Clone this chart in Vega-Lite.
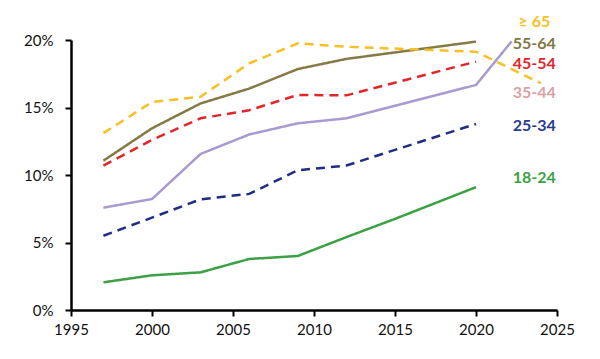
{
  "$schema": "https://vega.github.io/schema/vega-lite/v6.json",
  "width": 486,
  "height": 270,
  "autosize": {"type": "none"},
  "padding": {"left": 71, "top": 40, "right": 43, "bottom": 49},
  "background": "white",
  "config": {"view": {"stroke": null}, "font": "Lato"},
  "datasets": {
    "lines": [
      {"series": "18-24", "year": 1997, "value": 0.0205},
      {"series": "18-24", "year": 2000, "value": 0.0257},
      {"series": "18-24", "year": 2003, "value": 0.0279},
      {"series": "18-24", "year": 2006, "value": 0.0378},
      {"series": "18-24", "year": 2009, "value": 0.0400},
      {"series": "18-24", "year": 2012, "value": 0.0540},
      {"series": "18-24", "year": 2015, "value": 0.0675},
      {"series": "18-24", "year": 2020, "value": 0.0910},
      {"series": "25-34", "year": 1997, "value": 0.0550},
      {"series": "25-34", "year": 2000, "value": 0.0684},
      {"series": "25-34", "year": 2003, "value": 0.0820},
      {"series": "25-34", "year": 2006, "value": 0.0860},
      {"series": "25-34", "year": 2009, "value": 0.1035},
      {"series": "25-34", "year": 2012, "value": 0.1070},
      {"series": "25-34", "year": 2015, "value": 0.1186},
      {"series": "25-34", "year": 2020, "value": 0.1378},
      {"series": "35-44", "year": 1997, "value": 0.0758},
      {"series": "35-44", "year": 2000, "value": 0.0822},
      {"series": "35-44", "year": 2003, "value": 0.1156},
      {"series": "35-44", "year": 2006, "value": 0.1300},
      {"series": "35-44", "year": 2009, "value": 0.1383},
      {"series": "35-44", "year": 2012, "value": 0.1420},
      {"series": "35-44", "year": 2020, "value": 0.1667},
      {"series": "35-44", "year": 2022.2, "value": 0.1990},
      {"series": "45-54", "year": 1997, "value": 0.1069},
      {"series": "45-54", "year": 2000, "value": 0.1260},
      {"series": "45-54", "year": 2003, "value": 0.1420},
      {"series": "45-54", "year": 2006, "value": 0.1480},
      {"series": "45-54", "year": 2009, "value": 0.1593},
      {"series": "45-54", "year": 2012, "value": 0.1590},
      {"series": "45-54", "year": 2020, "value": 0.1840},
      {"series": "55-64", "year": 1997, "value": 0.1106},
      {"series": "55-64", "year": 2000, "value": 0.1346},
      {"series": "55-64", "year": 2003, "value": 0.1530},
      {"series": "55-64", "year": 2006, "value": 0.1640},
      {"series": "55-64", "year": 2009, "value": 0.1785},
      {"series": "55-64", "year": 2012, "value": 0.1860},
      {"series": "55-64", "year": 2020, "value": 0.1988},
      {"series": "≥ 65", "year": 1997, "value": 0.1310},
      {"series": "≥ 65", "year": 2000, "value": 0.1540},
      {"series": "≥ 65", "year": 2003, "value": 0.1580},
      {"series": "≥ 65", "year": 2006, "value": 0.1827},
      {"series": "≥ 65", "year": 2009, "value": 0.1975},
      {"series": "≥ 65", "year": 2012, "value": 0.1950},
      {"series": "≥ 65", "year": 2020, "value": 0.1913},
      {"series": "≥ 65", "year": 2024, "value": 0.1680}
    ],
    "labels": [
      {"series": "≥ 65", "year": 2023.6, "value": 0.2133},
      {"series": "55-64", "year": 2023.6, "value": 0.1970},
      {"series": "45-54", "year": 2023.6, "value": 0.1820},
      {"series": "35-44", "year": 2023.6, "value": 0.1607},
      {"series": "25-34", "year": 2023.6, "value": 0.1363},
      {"series": "18-24", "year": 2023.6, "value": 0.0978}
    ]
  },
  "layer": [
    {
      "data": {"name": "lines"},
      "mark": {"type": "line", "strokeWidth": 2.5, "clip": false},
      "encoding": {
        "x": {
          "field": "year", "type": "quantitative",
          "scale": {"domain": [1995, 2025], "nice": false, "zero": false},
          "axis": {
            "values": [1995, 2000, 2005, 2010, 2015, 2020, 2025],
            "format": "d", "title": null, "grid": false,
            "domainColor": "black", "domainWidth": 2.5,
            "tickColor": "black", "tickWidth": 2, "tickSize": 6,
            "labelFontSize": 15, "labelColor": "#111", "labelPadding": 6,
            "labelFont": "Lato", "labelFlush": false
          }
        },
        "y": {
          "field": "value", "type": "quantitative",
          "scale": {"domain": [0, 0.2], "nice": false},
          "axis": {
            "values": [0, 0.05, 0.1, 0.15, 0.2],
            "format": ".0%", "title": null, "grid": false,
            "domainColor": "black", "domainWidth": 2.5,
            "tickColor": "black", "tickWidth": 2, "tickSize": 6,
            "labelFontSize": 15, "labelColor": "#111", "labelPadding": 12,
            "labelFont": "Lato"
          }
        },
        "color": {
          "field": "series", "type": "nominal", "legend": null,
          "scale": {
            "domain": ["18-24", "25-34", "35-44", "45-54", "55-64", "≥ 65"],
            "range": ["#3DA044", "#1F2D85", "#A99BD0", "#E0262A", "#857A45", "#F6C026"]
          }
        },
        "strokeDash": {
          "field": "series", "type": "nominal", "legend": null,
          "scale": {
            "domain": ["18-24", "25-34", "35-44", "45-54", "55-64", "≥ 65"],
            "range": [[1, 0], [9, 6], [1, 0], [9, 6], [1, 0], [9, 6]]
          }
        },
        "order": {"field": "year", "type": "quantitative"}
      }
    },
    {
      "data": {"name": "labels"},
      "mark": {"type": "text", "fontSize": 16, "fontWeight": "bold", "align": "center", "baseline": "middle", "clip": false, "font": "Lato"},
      "encoding": {
        "x": {"field": "year", "type": "quantitative"},
        "y": {"field": "value", "type": "quantitative"},
        "text": {"field": "series"},
        "color": {
          "field": "series", "type": "nominal", "legend": null,
          "scale": {
            "domain": ["18-24", "25-34", "35-44", "45-54", "55-64", "≥ 65"],
            "range": ["#3DA044", "#2A3A8C", "#D9A3A3", "#E0262A", "#7F7744", "#F6C026"]
          }
        }
      }
    }
  ],
  "resolve": {"scale": {"color": "independent"}}
}
